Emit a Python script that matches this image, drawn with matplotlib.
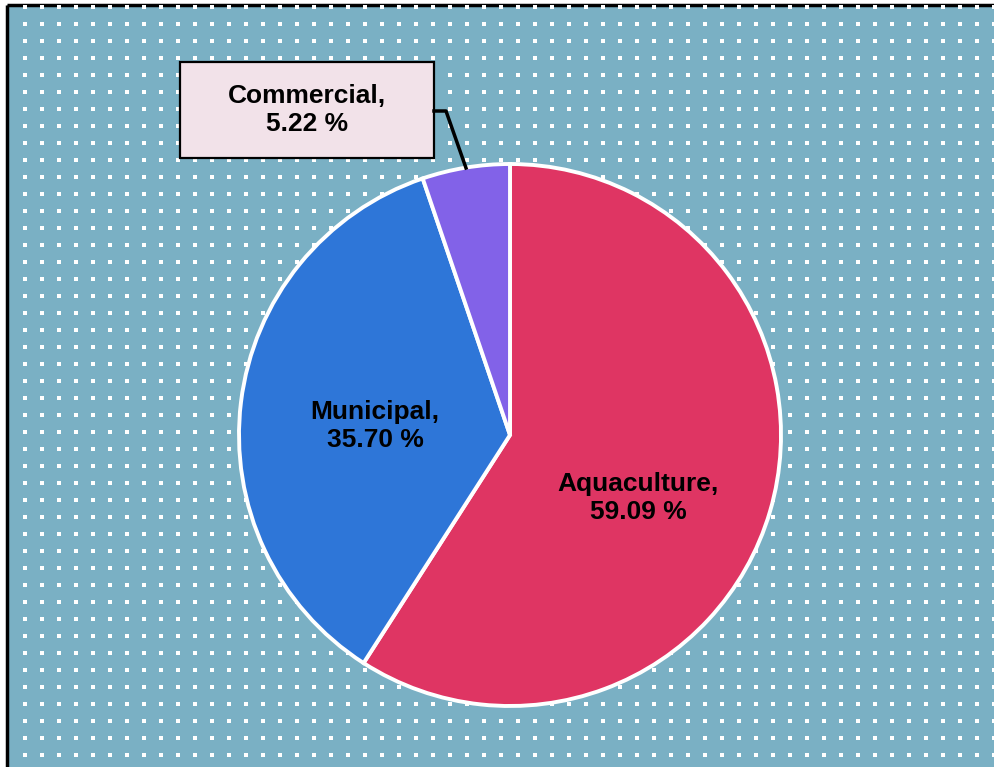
import matplotlib
matplotlib.use("Agg")
import matplotlib.pyplot as plt
from matplotlib.patches import Rectangle
import numpy as np

categories = ["Aquaculture", "Municipal", "Commercial"]
shares = [59.09, 35.70, 5.22]
colors = ["#DF3563", "#2E76D8", "#8262E8"]

W, H = 995, 767
fig = plt.figure(figsize=(W / 100, H / 100), dpi=100)
fig.patch.set_facecolor("white")
ax = fig.add_axes([0, 0, 1, 1])
ax.set_xlim(0, W)
ax.set_ylim(0, H)
ax.axis("off")

bg = "#7AB0C4"
ax.add_patch(Rectangle((7, 0), W - 7, H - 5, facecolor=bg, edgecolor="none", zorder=0))
ax.plot([7, 7], [0, H - 5], color="black", lw=2.5, zorder=1, solid_capstyle="butt")
ax.plot([7, W], [H - 5, H - 5], color="black", lw=2.5, zorder=1, solid_capstyle="butt")

# dotted pattern
xs = np.arange(24, W, 17)
ys = np.arange(6, H, 17)
gx, gy = np.meshgrid(xs, ys)
gx = gx.ravel(); gy = gy.ravel()
m = gx > 12
ax.scatter(gx[m] + 0.5, H - gy[m] - 0.5, marker="s", s=7.5, color="white", linewidths=0, zorder=1)

cx, cy, r = 510, H - 435, 271
wedges, _ = ax.pie(shares, colors=colors, startangle=90, counterclock=False,
                   center=(cx, cy), radius=r, frame=True,
                   wedgeprops=dict(edgecolor="white", linewidth=2.8))
for w in wedges:
    w.set_zorder(3)
ax.set_xlim(0, W)
ax.set_ylim(0, H)
ax.set_aspect("auto")
ax.axis("off")

font = dict(family=["Liberation Sans", "DejaVu Sans"], fontweight="bold", fontsize=19)
ax.text(375, H - 426, f"{categories[1]},\n{shares[1]:.2f} %", ha="center", va="center",
        zorder=5, linespacing=1.2, **font)
ax.text(638, H - 498, f"{categories[0]},\n{shares[0]:.2f} %", ha="center", va="center",
        zorder=5, linespacing=1.2, **font)

# commercial callout
ax.add_patch(Rectangle((180, H - 158), 254, 96, facecolor="#F2E2E9", edgecolor="black",
                       lw=1.6, zorder=6))
ax.text(307, H - 110, f"{categories[2]},\n{shares[2]:.2f} %", ha="center", va="center",
        zorder=7, linespacing=1.2, **font)
ax.plot([434, 446, 466], [H - 111, H - 111, H - 168], color="black", lw=2.5, zorder=6)

fig.savefig("out.png", dpi=100)
